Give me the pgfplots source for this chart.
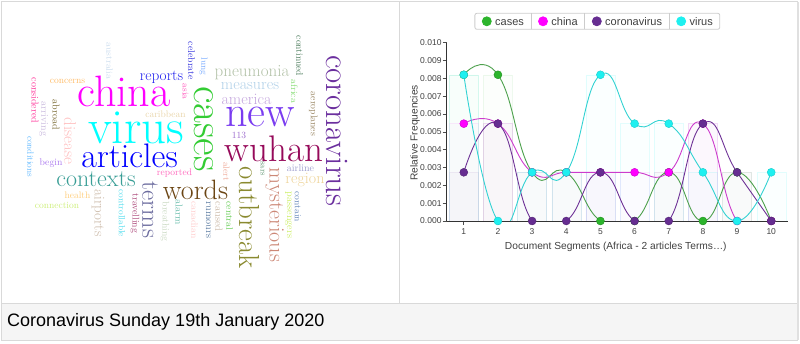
\documentclass[border=0pt]{standalone}
\usepackage{fontspec}
\newfontfamily\lsans{Liberation Sans}
\usepackage{pgfplots}
\usepackage{pgfplotstable}
\pgfplotsset{compat=1.18}

\definecolor{casesLine}{RGB}{76,160,76}
\definecolor{casesDot}{RGB}{44,180,44}
\definecolor{chinaLine}{RGB}{204,60,204}
\definecolor{chinaDot}{RGB}{255,0,255}
\definecolor{coronaLine}{RGB}{110,50,150}
\definecolor{coronaDot}{RGB}{102,45,145}
\definecolor{virusLine}{RGB}{50,210,210}
\definecolor{virusDot}{RGB}{30,240,240}

\pgfplotstableread{
seg cases   china   corona  virus
1   0.00820 0.00546 0.00273 0.00820
2   0.00820 0.00546 0.00546 0
3   0.00273 0.00273 0       0.00273
4   0.00273 0.00273 0       0.00273
5   0       0.00273 0.00273 0.00820
6   0       0.00273 0       0.00546
7   0.00273 0.00273 0       0.00546
8   0       0.00546 0.00546 0.00273
9   0.00273 0       0.00273 0
10  0       0       0       0.00273
}\freqdata

\newcommand{\W}[6]{\node[inner sep=0pt,rotate=#4,font=\fontsize{#3}{#3}\selectfont] at (#1,{344-#2}) {\color[HTML]{#5}#6};}

\begin{document}
\begin{tikzpicture}[x=1pt,y=1pt]
\useasboundingbox (0,0) rectangle (800,344);
% panels
\fill[black!4] (2,3.5) rectangle (796.5,41);
\draw[black!15, line width=0.8pt] (1.5,3.5) rectangle (797,342.3);
\draw[black!12, line width=2pt] (797.5,3.5) -- (797.5,342.3);
\draw[black!15, line width=0.8pt] (1.5,41) -- (797,41);
\draw[black!15, line width=0.8pt] (399,41) -- (399,342.3);
\node[anchor=base west, inner sep=0pt, font=\lsans\fontsize{18}{20}\selectfont] at (7,17) {Coronavirus Sunday 19th January 2020};

% word cloud: horizontal words
\W{124}{91.5}{44}{0}{FF00FF}{china}
\W{136}{127.5}{49}{0}{00FFFF}{virus}
\W{129.5}{156}{34}{0}{0000FF}{articles}
\W{96}{179}{24}{0}{3A9E96}{contexts}
\W{195.5}{189.5}{28}{0}{6B4513}{words}
\W{161.5}{77}{15.3}{0}{2020EE}{reports}
\W{252}{72.5}{17}{0}{B3C2A8}{pneumonia}
\W{250}{86}{16}{0}{B0D0E8}{measures}
\W{246.5}{99}{16}{0}{C4A6DD}{america}
\W{260}{117}{44}{0}{7A3CF0}{new}
\W{274}{148.5}{37}{0}{960A5A}{wuhan}
\W{239}{135}{9.5}{0}{9966CC}{113}
\W{305}{180}{16}{0}{EED49A}{region}
\W{300.5}{168}{10}{0}{9B9BCC}{airline}
\W{165.5}{114}{9.5}{0}{E8D4A8}{caribbean}
\W{67.5}{81}{9.5}{0}{FFBB66}{concerns}
\W{51}{163.5}{9.7}{0}{AA77EE}{begin}
\W{174.5}{173.5}{9.5}{0}{FF66BB}{reported}
\W{77.5}{195.5}{9.5}{0}{FFCC77}{health}
\W{57}{205}{9.5}{0}{CCEE77}{connection}
% vertical words
\W{337.5}{130.8}{33}{-90}{6B2F9E}{coronavirus}
\W{204}{129}{43}{-90}{33CC33}{cases}
\W{249}{217.5}{29}{-90}{8A8A30}{outbreak}
\W{274.5}{215}{22}{-90}{CC8877}{mysterious}
\W{150}{210}{25}{-90}{6B6B9E}{terms}
\W{98}{213}{15}{-90}{CCBBAA}{airports}
\W{70}{141}{17}{-90}{FFC0C0}{disease}
\W{35}{100.5}{10}{-90}{FF3399}{considered}
\W{43.7}{119}{10}{-90}{C8B8DD}{arriving}
\W{56}{115}{10}{-90}{7A6A33}{abroad}
\W{109.5}{61}{9.3}{-90}{CCDDEE}{australia}
\W{191.5}{61}{9.8}{-90}{3333DD}{celebrate}
\W{203.5}{66.3}{9}{-90}{77AAFF}{lung}
\W{185.5}{91.5}{9}{-90}{FF55BB}{asia}
\W{299.5}{56}{9.5}{-90}{4A7A5A}{continued}
\W{294.5}{91.3}{9.4}{-90}{88DD77}{africa}
\W{313.3}{114}{9.7}{-90}{9B8866}{aeroplanes}
\W{262.5}{168.7}{8.5}{-90}{669977}{sars}
\W{226.5}{171.5}{9}{-90}{EEAA99}{alert}
\W{288.3}{215}{10.2}{-90}{CCEE66}{passengers}
\W{297.8}{206.7}{9.3}{-90}{6688BB}{contain}
\W{229.7}{215.8}{9.4}{-90}{66CC55}{central}
\W{219}{216.7}{10.4}{-90}{CCBBAA}{caused}
\W{208.3}{220}{10.1}{-90}{5A7AA0}{rumours}
\W{194.5}{220}{9.4}{-90}{FFCCCC}{canadian}
\W{179}{212.5}{10}{-90}{66BBAA}{alarm}
\W{165}{221.7}{9.6}{-90}{C8D8C0}{breathing}
\W{135}{213.3}{9.7}{-90}{AA4477}{travelling}
\W{122}{213.3}{9.1}{-90}{55DDEE}{controllable}
\W{30.5}{156.7}{9}{-90}{66BBFF}{conditions}

\begin{axis}[
  at={(446.7pt,123pt)}, anchor=south west,
  scale only axis, width=341.6pt, height=178.3pt,
  xmin=0.5, xmax=10.5, ymin=0, ymax=0.010,
  axis x line*=bottom, axis y line*=left,
  axis line style={-, draw=black!80, line width=0.8pt},
  xtick={1,2,3,4,5,6,7,8,9,10},
  ytick={0,0.001,0.002,0.003,0.004,0.005,0.006,0.007,0.008,0.009,0.010},
  yticklabels={0.000,0.001,0.002,0.003,0.004,0.005,0.006,0.007,0.008,0.009,0.010},
  scaled y ticks=false,
  tick align=outside, major tick length=4pt,
  tick style={black!70, line width=0.6pt},
  /pgf/number format/assume math mode=true,
  ticklabel style={font=\lsans\fontsize{8.5}{10}\selectfont, text=black!75},
  yticklabel style={inner sep=0pt, xshift=-1pt},
  xticklabel style={inner sep=0pt, yshift=-3pt},
  xlabel={Document Segments (Africa - 2 articles Terms…)},
  ylabel={Relative Frequencies},
  label style={font=\lsans\fontsize{10.2}{12}\selectfont, text=black!75},
  x label style={at={(axis description cs:0.495,-0.144)}, anchor=center},
  y label style={at={(axis description cs:-0.0928,0.4935)}, anchor=center},
  legend columns=4,
  legend style={at={(0.441,1.12)}, anchor=center, draw=black!20, rounded corners=2pt,
    line width=0.8pt, inner xsep=7pt, inner ysep=0pt,
    font=\lsans\fontsize{11}{13}\selectfont, text=black!75,
    nodes={inner sep=0pt, text height=12pt, text depth=4pt},
    /tikz/every odd column/.append style={column sep=3.5pt},
    /tikz/every even column/.append style={column sep=14.2pt}},
]
% faint bars
\addplot[ybar, bar width=0.85, bar shift=0pt, fill=casesDot, fill opacity=0.015, draw=casesDot, draw opacity=0.08, forget plot] table[x=seg,y=cases]{\freqdata};
\addplot[ybar, bar width=0.85, bar shift=0pt, fill=chinaDot, fill opacity=0.015, draw=chinaDot, draw opacity=0.08, forget plot] table[x=seg,y=china]{\freqdata};
\addplot[ybar, bar width=0.85, bar shift=0pt, fill=coronaDot, fill opacity=0.02, draw=coronaDot, draw opacity=0.08, forget plot] table[x=seg,y=corona]{\freqdata};
\addplot[ybar, bar width=0.85, bar shift=0pt, fill=virusDot, fill opacity=0.015, draw=virusDot, draw opacity=0.12, forget plot] table[x=seg,y=virus]{\freqdata};
% lines
\addplot[casesLine, line width=0.9pt, smooth, tension=0.85, mark=*, mark size=4pt, mark options={fill=casesDot, draw=casesDot!80!black, line width=0.4pt}, forget plot] table[x=seg,y=cases]{\freqdata};
\addplot[chinaLine, line width=0.9pt, smooth, tension=0.85, mark=*, mark size=4pt, mark options={fill=chinaDot, draw=chinaDot!80!black, line width=0.4pt}, forget plot] table[x=seg,y=china]{\freqdata};
\addplot[coronaLine, line width=0.9pt, smooth, tension=0.85, mark=*, mark size=4pt, mark options={fill=coronaDot, draw=coronaDot!80!black, line width=0.4pt}, forget plot] table[x=seg,y=corona]{\freqdata};
\addplot[virusLine, line width=0.9pt, smooth, tension=0.85, mark=*, mark size=4pt, mark options={fill=virusDot, draw=virusDot!85!black, line width=0.4pt}, forget plot] table[x=seg,y=virus]{\freqdata};
% legend
\addlegendimage{legend image code/.code={\fill[casesDot] (4.5pt,0pt) circle (4.5pt);}}
\addlegendentry{cases}
\addlegendimage{legend image code/.code={\fill[chinaDot] (4.5pt,0pt) circle (4.5pt); \draw[overlay, black!20, line width=0.8pt] (-7.5pt,-8pt) -- (-7.5pt,8pt);}}
\addlegendentry{china}
\addlegendimage{legend image code/.code={\fill[coronaDot] (4.5pt,0pt) circle (4.5pt); \draw[overlay, black!20, line width=0.8pt] (-7.5pt,-8pt) -- (-7.5pt,8pt);}}
\addlegendentry{coronavirus}
\addlegendimage{legend image code/.code={\fill[virusDot] (4.5pt,0pt) circle (4.5pt); \draw[overlay, black!20, line width=0.8pt] (-7.5pt,-8pt) -- (-7.5pt,8pt);}}
\addlegendentry{virus}
\end{axis}
\end{tikzpicture}
\end{document}
